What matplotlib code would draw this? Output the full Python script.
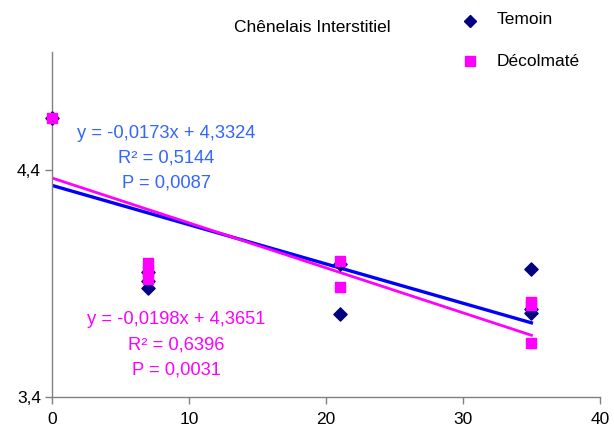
import matplotlib
matplotlib.use("Agg")
import matplotlib.pyplot as plt
import numpy as np

plt.rcParams['font.family'] = ['Liberation Sans', 'DejaVu Sans']

title = "Chênelais Interstitiel"

# Days since treatment and measured values
temoin_x = [0, 7, 7, 7, 21, 21, 35, 35, 35]
temoin_y = [4.63, 3.95, 3.91, 3.88, 3.985, 3.765, 3.965, 3.79, 3.77]

decol_x = [0, 7, 7, 7, 21, 21, 35, 35, 35]
decol_y = [4.63, 3.99, 3.955, 3.92, 4.0, 3.885, 3.82, 3.805, 3.64]

# Linear fits (slope, intercept) with statistics
temoin_fit = (-0.0173, 4.3324)
decol_fit = (-0.0198, 4.3651)
temoin_stats = ["y = -0,0173x + 4,3324", "R² = 0,5144", "P = 0,0087"]
decol_stats = ["y = -0,0198x + 4,3651", "R² = 0,6396", "P = 0,0031"]

x_ticks = [0, 10, 20, 30, 40]
y_ticks = [3.4, 4.4]
y_tick_labels = ["3,4", "4,4"]

navy = "#000080"
magenta = "#FF00FF"
blue_line = "#0000FF"
blue_text = "#3366FF"

fig = plt.figure(figsize=(6.14, 4.28), dpi=100)
ax = fig.add_axes([0.0847, 0.0724, 0.8923, 0.806])

fx = np.array([0, 35])
ax.plot(fx, temoin_fit[0] * fx + temoin_fit[1], color=blue_line, lw=2.4, zorder=2)
ax.plot(fx, decol_fit[0] * fx + decol_fit[1], color=magenta, lw=2.0, zorder=2)

ax.scatter(temoin_x, temoin_y, marker="D", s=45, color=navy, zorder=3, clip_on=False)
ax.scatter(decol_x, decol_y, marker="s", s=55, color=magenta, zorder=4, clip_on=False)

ax.set_xlim(0, 40)
ax.set_ylim(3.4, 4.92)
ax.set_xticks(x_ticks)
ax.set_xticklabels([str(t) for t in x_ticks])
ax.set_yticks(y_ticks)
ax.set_yticklabels(y_tick_labels)

for side in ("top", "right"):
    ax.spines[side].set_visible(False)
for side in ("left", "bottom"):
    ax.spines[side].set_color("#808080")
    ax.spines[side].set_linewidth(1.0)
ax.tick_params(direction="out", length=5, width=1, color="#808080",
               labelsize=12.5, labelcolor="black")
ax.tick_params(axis="x", pad=6)
ax.tick_params(axis="y", pad=3)

fig.text(0.508, 1 - 27 / 428, title, ha="center", va="center", fontsize=12.5)

# Legend entries
leg_x = 470 / 614
fig.add_artist(plt.Line2D([leg_x], [1 - 21 / 428], marker="D", markersize=6.5,
                          color=navy, linestyle="none", transform=fig.transFigure))
fig.add_artist(plt.Line2D([leg_x], [1 - 61 / 428], marker="s", markersize=7.5,
                          color=magenta, linestyle="none", transform=fig.transFigure))
fig.text(497 / 614, 1 - 20 / 428, "Temoin", ha="left", va="center", fontsize=12.5)
fig.text(497 / 614, 1 - 61 / 428, "Décolmaté", ha="left", va="center", fontsize=12.5)

for i, s in enumerate(temoin_stats):
    fig.text(166 / 614, 1 - (133 + 25 * i) / 428, s, ha="center", va="center",
             fontsize=13.2, color=blue_text)
for i, s in enumerate(decol_stats):
    fig.text(176 / 614, 1 - (320 + 25 * i) / 428, s, ha="center", va="center",
             fontsize=13.2, color=magenta)

fig.savefig("out.png", dpi=100)
